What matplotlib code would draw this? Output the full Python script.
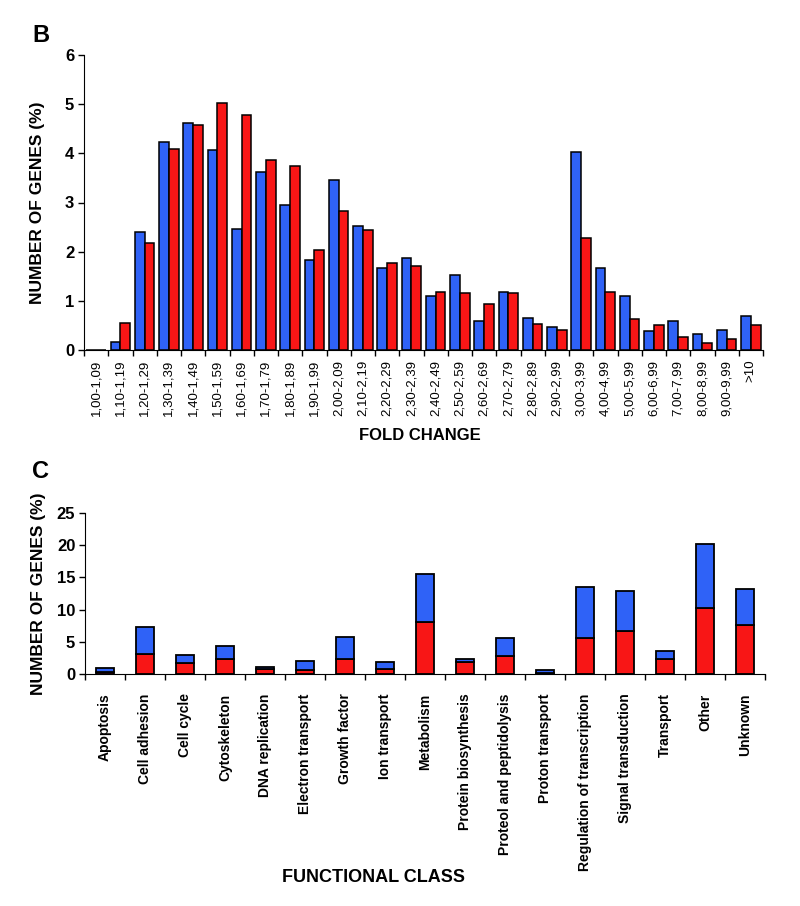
import numpy as np
import matplotlib
matplotlib.use("Agg")
import matplotlib.pyplot as plt

plt.rcParams['font.family'] = ['Liberation Sans', 'DejaVu Sans']

# panel B: distribution of fold change
fold_labels = ['1,00-1,09', '1,10-1,19', '1,20-1,29', '1,30-1,39', '1,40-1,49',
               '1,50-1,59', '1,60-1,69', '1,70-1,79', '1,80-1,89', '1,90-1,99',
               '2,00-2,09', '2,10-2,19', '2,20-2,29', '2,30-2,39', '2,40-2,49',
               '2,50-2,59', '2,60-2,69', '2,70-2,79', '2,80-2,89', '2,90-2,99',
               '3,00-3,99', '4,00-4,99', '5,00-5,99', '6,00-6,99', '7,00-7,99',
               '8,00-8,99', '9,00-9,99', '>10']
fold_blue = [0, 0.17, 2.40, 4.23, 4.62, 4.07, 2.46, 3.63, 2.95, 1.84,
             3.45, 2.52, 1.66, 1.87, 1.10, 1.52, 0.60, 1.18, 0.66, 0.47,
             4.03, 1.66, 1.10, 0.38, 0.60, 0.33, 0.41, 0.69]
fold_red = [0, 0.55, 2.18, 4.08, 4.58, 5.02, 4.77, 3.86, 3.75, 2.03,
            2.83, 2.45, 1.77, 1.71, 1.18, 1.15, 0.94, 1.15, 0.52, 0.41,
            2.27, 1.18, 0.64, 0.50, 0.26, 0.14, 0.22, 0.50]

# panel C: functional classes (red stacked under blue)
func_labels = ['Apoptosis', 'Cell adhesion', 'Cell cycle', 'Cytoskeleton',
               'DNA replication', 'Electron transport', 'Growth factor',
               'Ion transport', 'Metabolism', 'Protein biosynthesis',
               'Proteol and peptidolysis', 'Proton transport',
               'Regulation of transcription', 'Signal transduction',
               'Transport', 'Other', 'Unknown']
func_red = [0.25, 3.1, 1.7, 2.35, 0.7, 0.62, 2.35, 0.78, 8.0, 1.82,
            2.8, 0.1, 5.64, 6.67, 2.3, 10.25, 7.58]
func_total = [0.95, 7.25, 2.95, 4.35, 1.04, 1.97, 5.69, 1.86, 15.6, 2.33,
              5.64, 0.62, 13.5, 12.83, 3.6, 20.19, 13.25]

BLUE = '#2f62f7'
RED = '#f81616'

fig = plt.figure(figsize=(8, 9.06), dpi=100)

# ---- B ----
axB = fig.add_axes([84/800, 1-350/906, (763-84)/800, 295/906])
x = np.arange(len(fold_labels))
axB.bar(x - 0.2, fold_blue, width=0.4, color=BLUE, edgecolor='black', linewidth=1.1)
axB.bar(x + 0.2, fold_red, width=0.4, color=RED, edgecolor='black', linewidth=1.1)
axB.set_xlim(-0.5, len(fold_labels) - 0.5)
axB.set_ylim(0, 6)
axB.set_yticks(range(0, 7))
axB.set_xticks(x, labels=fold_labels, rotation=90, fontsize=9.5)
axB.set_xticks(np.arange(len(fold_labels) + 1) - 0.5, minor=True)
axB.tick_params(axis='x', which='major', length=0, pad=7)
axB.tick_params(axis='x', which='minor', length=4, width=1)
axB.tick_params(axis='y', length=4, width=1, labelsize=12, pad=3)
for lab in axB.get_yticklabels():
    lab.set_fontweight('bold')
for s in ['top', 'right']:
    axB.spines[s].set_visible(False)
axB.set_ylabel('NUMBER OF GENES (%)', fontsize=12.5, fontweight='bold')
axB.yaxis.set_label_coords(-0.058, 0.5)
fig.text(420/800, 1-436/906, 'FOLD CHANGE', ha='center', va='center',
         fontsize=12, fontweight='bold')
fig.text(32/800, 1-35/906, 'B', ha='left', va='center', fontsize=17, fontweight='bold')

# ---- C ----
axC = fig.add_axes([85/800, 1-674/906, 680/800, 161/906])
xc = np.arange(len(func_labels))
func_blue = [t - r for t, r in zip(func_total, func_red)]
axC.bar(xc, func_red, width=0.43, color=RED, edgecolor='black', linewidth=1.3)
axC.bar(xc, func_blue, bottom=func_red, width=0.43, color=BLUE,
        edgecolor='black', linewidth=1.3)
axC.set_xlim(-0.5, len(func_labels) - 0.5)
axC.set_ylim(0, 25)
axC.set_yticks(range(0, 26, 5))
axC.set_xticks(xc, labels=func_labels, rotation=90, fontsize=10, fontweight='bold')
axC.set_xticks(np.arange(len(func_labels) + 1) - 0.5, minor=True)
axC.tick_params(axis='x', which='major', length=0, pad=14)
axC.tick_params(axis='x', which='minor', length=4, width=1)
axC.tick_params(axis='y', length=4, width=1, labelsize=12, pad=3)
for lab in axC.get_yticklabels():
    lab.set_fontweight('bold')
for s in ['top', 'right']:
    axC.spines[s].set_visible(False)
axC.set_ylabel('NUMBER OF GENES (%)', fontsize=12.5, fontweight='bold')
axC.yaxis.set_label_coords(-0.058, 0.5)
fig.text(373/800, 1-877/906, 'FUNCTIONAL CLASS', ha='center', va='center',
         fontsize=13, fontweight='bold',
         family=['Liberation Sans Narrow', 'Liberation Sans', 'DejaVu Sans'])
fig.text(32/800, 1-472/906, 'C', ha='left', va='center', fontsize=17, fontweight='bold')

fig.savefig('out.png', dpi=100)
